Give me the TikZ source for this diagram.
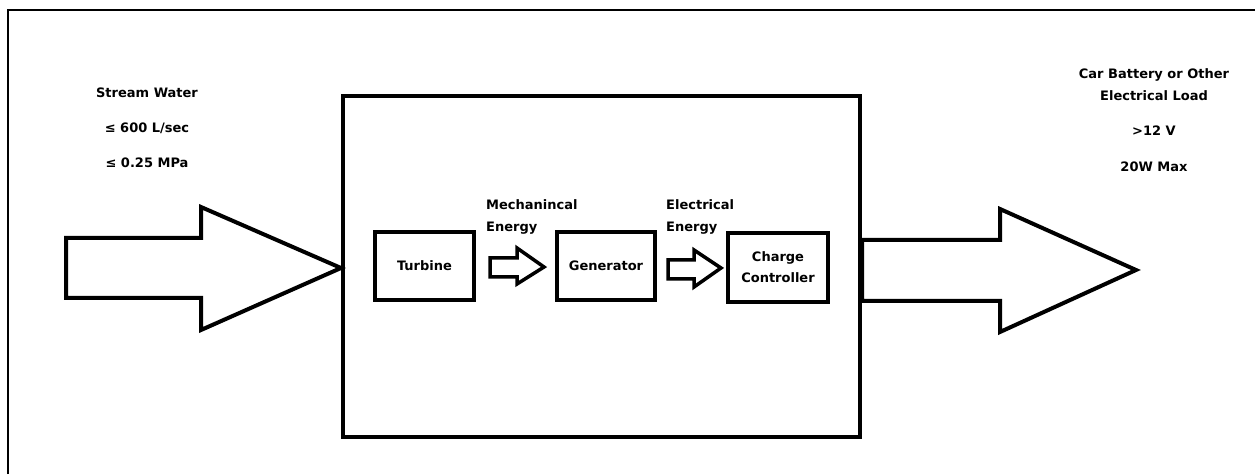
\documentclass[tikz,border=0pt]{standalone}
\usepackage{fontspec}
\setmainfont{DejaVu Sans}
\usetikzlibrary{positioning}

\begin{document}
\begin{tikzpicture}[
    x=1pt,y=1pt,
    blk/.style={draw,line width=4pt,inner sep=0pt,font=\bfseries\fontsize{13}{21}\selectfont,align=center},
    lbl/.style={font=\bfseries\fontsize{13}{22}\selectfont,align=center,inner sep=0pt},
    barrow/.style={draw,line width=4pt,line join=miter,fill=white},
    sarrow/.style={draw,line width=3.5pt,line join=miter,fill=white}
  ]
  \useasboundingbox (0,0) rectangle (1255,474);
  % frame of the page (cut at the right and bottom)
  \draw[line width=2pt] (8,0) -- (8,464) -- (1255,464);

  % system box and its blocks
  \node[blk,minimum width=517,minimum height=341] (sys) at (601.5,207.5) {};
  \node[blk,minimum width=99,minimum height=68] (turb) at (424.5,208) {Turbine};
  \node[blk,minimum width=98,minimum height=68] (gen) at (606,208) {Generator};
  \node[blk,minimum width=100,minimum height=69] (ctrl) at (778,206.5) {Charge\\Controller};

  % input and output
  \node[lbl] (water) at (147,381) {Stream Water};
  \node[lbl] (flow) at (147,346) {≤ 600 L/sec};
  \node[lbl] (press) at (147,311) {≤ 0.25 MPa};
  \node[lbl] (load) at (1154,389) {Car Battery or Other\\Electrical Load};
  \node[lbl] (volt) at (1154,343) {>12 V};
  \node[lbl] (power) at (1154,307) {20W Max};

  \node[lbl,align=left,anchor=west] (mech) at (486,257.5) {Mechanincal\\Energy};
  \node[lbl,align=left,anchor=west] (elec) at (666,257.5) {Electrical\\Energy};

  % block arrows
  \draw[barrow] (66,236) -- (201,236) -- (201,267) -- (sys.west |- 0,206)
    -- (201,144) -- (201,176) -- (66,176) -- cycle;
  \draw[barrow] (sys.east |- 0,234) -- (1000,234) -- (1000,265) -- (1136,204)
    -- (1000,142) -- (1000,173) -- (sys.east |- 0,173) -- cycle;
  \draw[sarrow] (490,216) -- (517,216) -- (517,226) -- (544,207)
    -- (517,190) -- (517,197) -- (490,197) -- cycle;
  \draw[sarrow] (668,214) -- (694,214) -- (694,224) -- (721,206)
    -- (694,187) -- (694,195) -- (668,195) -- cycle;
\end{tikzpicture}
\end{document}
